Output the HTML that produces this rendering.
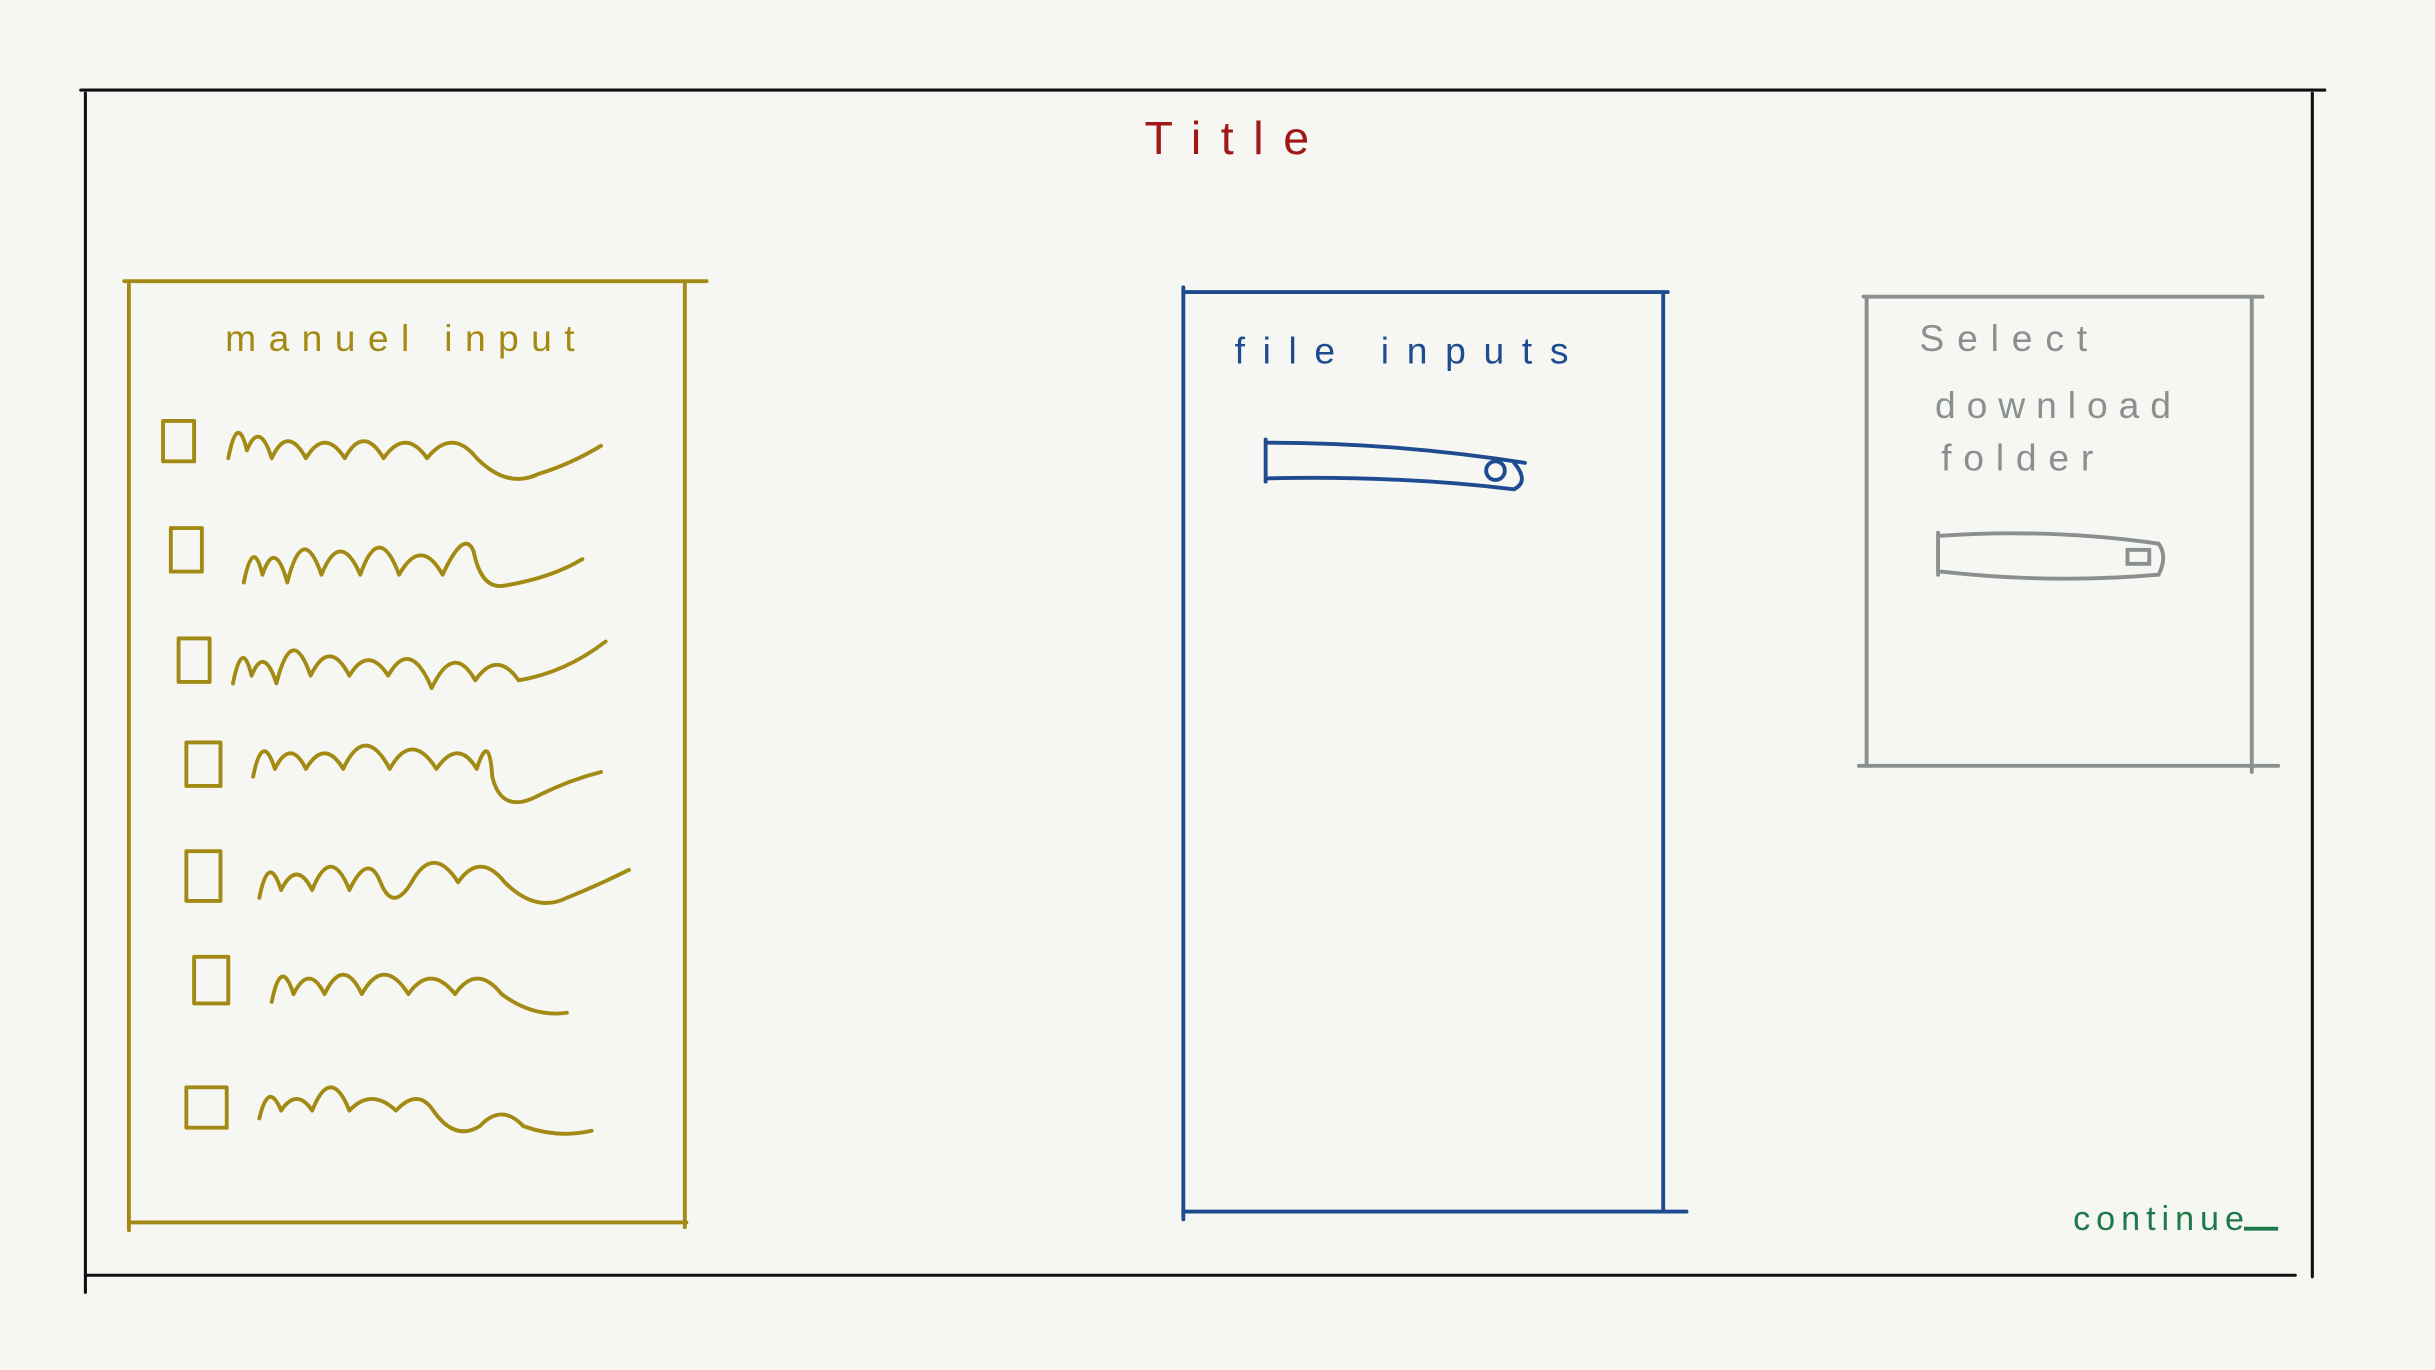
<!DOCTYPE html>
<html><head><meta charset="utf-8"><style>
html,body{margin:0;padding:0;background:#f6f7f2;}
svg{display:block;}
text{font-family:"Liberation Sans",sans-serif;}
</style></head><body>
<svg width="2435" height="1370" viewBox="0 0 1568 882" preserveAspectRatio="none">
<rect x="0" y="0" width="1568" height="882" fill="#f6f7f2"/>
<g stroke="#111" stroke-width="2" fill="none" stroke-linecap="round">
<path d="M52 58 L1497 58"/><path d="M55 60 L55 832"/><path d="M1489 60 L1489 822"/><path d="M55 821 L1478 821"/>
</g>
<text x="737" y="99" fill="#a01818" font-size="30" textLength="106" lengthAdjust="spacing">Title</text>

<g stroke="#a38a14" stroke-width="2.5" fill="none" stroke-linecap="round">
<path d="M80 181 L455 181"/><path d="M83 183 L83 792"/><path d="M441 183 L441 790"/><path d="M83 787 L442 787"/>
</g>
<text x="145" y="226" fill="#a38a14" font-size="24" textLength="225" lengthAdjust="spacing">manuel  input</text>
<g stroke="#a38a14" stroke-width="2.5" fill="none" stroke-linecap="round" stroke-linejoin="round">
<g><rect x="105" y="271" width="20" height="26"/><path d="M147 295 q6 -30 12 -5 q8 -20 16 5 q10 -22 22 0 q12 -20 25 0 q12 -22 25 0 q14 -20 28 0 q16 -20 32 0 q20 20 40 10 q20 -6 40 -18"/></g>
<g><rect x="110" y="340" width="20" height="28"/><path d="M157 375 q6 -30 12 -5 q8 -24 16 5 q10 -40 22 -5 q12 -30 25 0 q12 -35 25 0 q14 -25 28 0 q14 -30 20 -15 q5 25 20 22 q30 -5 50 -17"/></g>
<g><rect x="115" y="411" width="20" height="28"/><path d="M150 440 q6 -30 12 -5 q8 -20 16 5 q10 -40 22 -5 q12 -25 25 0 q12 -20 25 0 q14 -25 28 8 q14 -30 28 -5 q14 -20 28 0 q30 -5 56 -25"/></g>
<g><rect x="120" y="478" width="22" height="28"/><path d="M163 500 q6 -30 14 -5 q10 -20 20 0 q12 -20 24 0 q14 -30 30 0 q14 -25 30 0 q14 -20 26 0 q8 -25 10 5 q6 25 30 12 q20 -10 40 -15"/></g>
<g><rect x="120" y="548" width="22" height="32"/><path d="M167 578 q6 -30 14 -5 q10 -20 20 0 q12 -30 24 0 q12 -25 20 -5 q8 20 20 0 q14 -25 30 0 q14 -20 30 0 q20 20 40 10 q20 -8 40 -18"/></g>
<g><rect x="125" y="616" width="22" height="30"/><path d="M175 645 q6 -30 14 -5 q10 -20 20 0 q12 -25 24 0 q14 -25 30 0 q14 -20 30 0 q14 -20 30 0 q20 15 42 12"/></g>
<g><rect x="120" y="700" width="26" height="26"/><path d="M167 720 q6 -25 14 -5 q10 -15 20 0 q12 -30 24 0 q14 -15 30 0 q14 -15 24 0 q14 20 30 10 q14 -15 28 0 q22 8 44 3"/></g>
</g>

<g stroke="#1f4b91" stroke-width="2.5" fill="none" stroke-linecap="round">
<path d="M762 185 L762 785"/><path d="M762 188 L1074 188"/><path d="M1071 188 L1071 780"/><path d="M762 780 L1086 780"/>
</g>
<text x="795" y="234" fill="#1f4b91" font-size="24" textLength="215" lengthAdjust="spacing">file   inputs</text>
<g stroke="#1f4b91" stroke-width="2.5" fill="none" stroke-linecap="round">
<path d="M815 283 L815 310 M815 285 Q900 285 982 298 M815 308 Q900 306 975 315 Q985 310 975 298"/>
<circle cx="963" cy="303" r="6"/>
</g>

<g stroke="#8a8f8f" stroke-width="2.5" fill="none" stroke-linecap="round">
<path d="M1200 191 L1457 191"/><path d="M1202 191 L1202 493"/><path d="M1450 191 L1450 497"/><path d="M1197 493 L1467 493"/>
</g>
<g fill="#8a8f8f" font-size="24">
<text x="1236" y="226" textLength="108" lengthAdjust="spacing">Select</text><text x="1246" y="269" textLength="152" lengthAdjust="spacing">download</text><text x="1250" y="303" textLength="98" lengthAdjust="spacing">folder</text>
</g>
<g stroke="#8a8f8f" stroke-width="2.5" fill="none" stroke-linecap="round">
<path d="M1248 343 L1248 370 M1248 345 Q1320 340 1390 350 M1250 368 Q1320 376 1390 370 Q1396 358 1390 350"/>
<rect x="1370" y="354" width="14" height="9"/>
</g>

<text x="1335" y="792" fill="#1e7a4a" font-size="22" textLength="110" lengthAdjust="spacing">continue</text>
<path d="M1445 791 L1467 791" stroke="#1e7a4a" stroke-width="2.5" fill="none"/>
</svg>
</body></html>
